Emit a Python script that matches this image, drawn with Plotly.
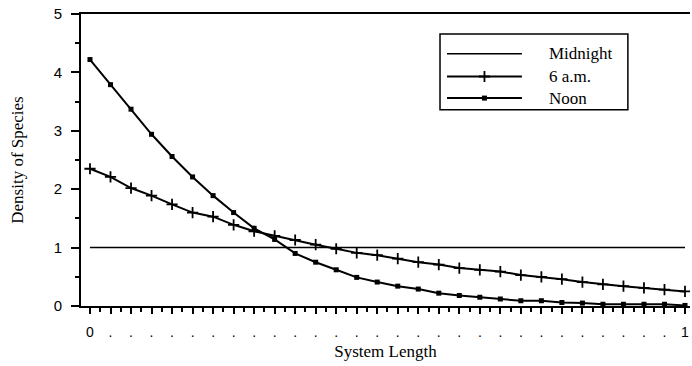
import numpy as np
import plotly.graph_objects as go

# ---- data ----
system_length = np.linspace(0, 1, 30)
midnight = [1.0] * 30
six_am = [2.35, 2.21, 2.02, 1.89, 1.74, 1.60, 1.53, 1.39, 1.28, 1.20,
          1.13, 1.05, 0.98, 0.91, 0.87, 0.81, 0.75, 0.71, 0.65, 0.62,
          0.59, 0.53, 0.50, 0.46, 0.41, 0.37, 0.34, 0.31, 0.28, 0.25]
noon = [4.22, 3.79, 3.37, 2.94, 2.56, 2.21, 1.89, 1.60, 1.33, 1.14,
        0.90, 0.75, 0.62, 0.49, 0.41, 0.34, 0.29, 0.22, 0.18, 0.15,
        0.12, 0.09, 0.09, 0.06, 0.05, 0.03, 0.03, 0.03, 0.03, 0.01]
x_ticktext = ["0"] + ["."] * 28 + ["1"]
y_tickvals = [0, 1, 2, 3, 4, 5]
legend_names = ["Midnight", "6 a.m.", "Noon"]

SERIF = "Liberation Serif, Times New Roman, serif"
SANS = "Liberation Sans, Arial, sans-serif"

cross = dict(symbol="cross-thin", size=8, color="black", line=dict(color="black", width=1.8))
square = dict(symbol="square", size=5, color="black")

fig = go.Figure()
fig.add_trace(go.Scatter(x=system_length, y=midnight, mode="lines",
                         line=dict(color="black", width=1.5), showlegend=False))
fig.add_trace(go.Scatter(x=system_length, y=six_am, mode="lines+markers",
                         line=dict(color="black", width=2), marker=cross, showlegend=False))
fig.add_trace(go.Scatter(x=system_length, y=noon, mode="lines+markers",
                         line=dict(color="black", width=2), marker=square, showlegend=False))

# ---- legend drawn on an overlay axis (0..1 paper-like) ----
leg_y = [0.864, 0.786, 0.712]
leg_x0, leg_x1 = 0.601, 0.724
leg_mid = (leg_x0 + leg_x1) / 2
styles = [None, cross, square]
for name, yy, st in zip(legend_names, leg_y, styles):
    fig.add_trace(go.Scatter(x=[leg_x0, leg_x1], y=[yy, yy], mode="lines",
                             line=dict(color="black", width=1.5 if st is None else 2),
                             xaxis="x2", yaxis="y2", showlegend=False, hoverinfo="skip"))
    if st is not None:
        fig.add_trace(go.Scatter(x=[leg_mid], y=[yy], mode="markers", marker=st,
                                 xaxis="x2", yaxis="y2", showlegend=False, hoverinfo="skip"))
    fig.add_annotation(x=0.765, y=yy, xref="x2", yref="y2", text=name, showarrow=False,
                       xanchor="left", yanchor="middle", font=dict(family=SERIF, size=17, color="black"))

fig.add_shape(type="rect", xref="x2", yref="y2", x0=0.5895, x1=0.898, y0=0.672, y1=0.9315,
              line=dict(color="black", width=1.5), fillcolor="rgba(0,0,0,0)")

fig.update_layout(
    width=692, height=366,
    margin=dict(l=81, r=2, t=14, b=60),
    paper_bgcolor="white", plot_bgcolor="white",
    xaxis=dict(range=[-0.0151, 1.0084], tickmode="array", tickvals=list(system_length),
               ticktext=x_ticktext, ticks="outside", ticklen=6, tickwidth=1.5, tickcolor="black",
               showline=True, linecolor="black", linewidth=2, mirror=True,
               showgrid=False, zeroline=False, ticklabelstandoff=6,
               tickfont=dict(family=SANS, size=14, color="black"),
               minor=dict(dtick=1 / 58, tick0=0, ticks="outside", ticklen=4, tickwidth=1.5,
                          tickcolor="black", showgrid=False),
               title=dict(text="System Length", font=dict(family=SERIF, size=17, color="black"),
                          standoff=6)),
    yaxis=dict(range=[0, 5], tickvals=y_tickvals, ticks="outside", ticklen=8, tickwidth=1.5,
               tickcolor="black", showline=True, linecolor="black", linewidth=2,
               showgrid=False, zeroline=False, ticklabelstandoff=6,
               tickfont=dict(family=SANS, size=15, color="black"),
               minor=dict(dtick=0.5, tick0=0, ticks="outside", ticklen=4, tickwidth=1.5,
                          tickcolor="black", showgrid=False),
               title=dict(text="Density of Species", font=dict(family=SERIF, size=17, color="black"),
                          standoff=26)),
    xaxis2=dict(overlaying="x", range=[0, 1], visible=False),
    yaxis2=dict(overlaying="y", range=[0, 1], visible=False),
)

fig.write_html("out.html")
